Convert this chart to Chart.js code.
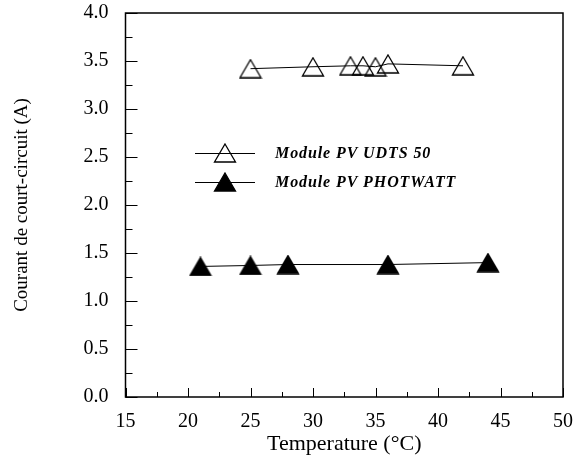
<!DOCTYPE html>
<html>
<head>
<meta charset="utf-8">
<script src="https://cdn.jsdelivr.net/npm/chart.js@4/dist/chart.umd.min.js"></script>
<style>
  html, body { margin: 0; padding: 0; background: #fff; }
  #wrap { width: 584px; height: 459px; }
</style>
</head>
<body>
<div id="wrap"><canvas id="chart"></canvas></div>
<script>
// Data
const tempsUdts = [25, 30, 33, 34, 35, 36, 42];
const currentUdts = [3.42, 3.44, 3.45, 3.45, 3.44, 3.47, 3.45];
const tempsPhotowatt = [21, 25, 28, 36, 44];
const currentPhotowatt = [1.36, 1.37, 1.38, 1.38, 1.40];
const xTicks = [15, 20, 25, 30, 35, 40, 45, 50];
const yTicks = [0, 0.5, 1, 1.5, 2, 2.5, 3, 3.5, 4];
const seriesNames = ["Module PV UDTS 50", "Module PV PHOTWATT"];

const serif = "'Liberation Serif', 'Times New Roman', serif";

// triangle markers, centred on the point
function triangle(filled) {
  const c = document.createElement("canvas");
  c.width = 24;
  c.height = 20;
  const g = c.getContext("2d");
  g.beginPath();
  g.moveTo(12, 1);
  g.lineTo(22.5, 19);
  g.lineTo(1.5, 19);
  g.closePath();
  if (filled) {
    g.fillStyle = "#000";
    g.fill();
  }
  g.strokeStyle = "#000";
  g.lineWidth = 1.3;
  g.stroke();
  return c;
}
const openTri = triangle(false);
const fullTri = triangle(true);

function toPoints(xs, ys) {
  return xs.map((x, i) => ({ x: x, y: ys[i] }));
}

// frame, inward ticks and the legend inside the plot
const framePlugin = {
  id: "frame",
  afterDraw(chart) {
    const ctx = chart.ctx;
    const a = chart.chartArea;
    const xs = chart.scales.x;
    const ys = chart.scales.y;
    ctx.save();
    ctx.strokeStyle = "#000";
    ctx.lineWidth = 1.5;
    ctx.strokeRect(a.left, a.top, a.right - a.left, a.bottom - a.top);

    ctx.lineWidth = 1;
    ctx.beginPath();
    for (let v = 15; v <= 50; v += 2.5) {
      const px = Math.round(xs.getPixelForValue(v)) + 0.5;
      const len = v % 5 === 0 ? 9 : 5;
      ctx.moveTo(px, a.bottom);
      ctx.lineTo(px, a.bottom - len);
    }
    for (let v = 0; v <= 4; v += 0.25) {
      const py = Math.round(ys.getPixelForValue(v)) + 0.5;
      const len = Math.abs(v * 2 - Math.round(v * 2)) < 1e-6 ? 12 : 7;
      ctx.moveTo(a.left, py);
      ctx.lineTo(a.left + len, py);
    }
    ctx.stroke();

    // legend
    const items = [
      { y: 153, img: openTri, name: seriesNames[0] },
      { y: 182, img: fullTri, name: seriesNames[1] }
    ];
    ctx.font = "bold italic 16px " + serif;
    ctx.letterSpacing = "0.9px";
    ctx.textBaseline = "middle";
    ctx.fillStyle = "#000";
    items.forEach((it) => {
      ctx.beginPath();
      ctx.moveTo(195, it.y + 0.5);
      ctx.lineTo(255, it.y + 0.5);
      ctx.lineWidth = 1;
      ctx.stroke();
      ctx.drawImage(it.img, 225 - it.img.width / 2, it.y - it.img.height / 2);
      ctx.fillText(it.name, 275, it.y + 1);
    });
    ctx.restore();
  }
};

new Chart(document.getElementById("chart"), {
  type: "line",
  data: {
    datasets: [
      {
        label: seriesNames[0],
        data: toPoints(tempsUdts, currentUdts),
        borderColor: "#000",
        borderWidth: 1,
        pointStyle: openTri,
        tension: 0
      },
      {
        label: seriesNames[1],
        data: toPoints(tempsPhotowatt, currentPhotowatt),
        borderColor: "#000",
        borderWidth: 1,
        pointStyle: fullTri,
        tension: 0
      }
    ]
  },
  options: {
    responsive: true,
    maintainAspectRatio: false,
    animation: false,
    layout: { autoPadding: false, padding: { left: 0, right: 21, top: 13, bottom: 0 } },
    plugins: {
      legend: { display: false },
      tooltip: { enabled: false }
    },
    scales: {
      x: {
        type: "linear",
        min: 15,
        max: 50,
        grid: { display: false, drawTicks: false },
        border: { display: false },
        afterBuildTicks: (s) => { s.ticks = xTicks.map((v) => ({ value: v })); },
        afterFit: (s) => {
          s.height = 62;
          s.paddingLeft = 0;
          s.paddingRight = 0;
        },
        ticks: {
          color: "#000",
          padding: 13,
          maxRotation: 0,
          font: { family: serif, size: 20 }
        },
        title: {
          display: true,
          text: "Temperature (°C)",
          color: "#000",
          padding: { top: 0, bottom: 1.5 },
          font: { family: serif, size: 22 }
        }
      },
      y: {
        min: 0,
        max: 4,
        grid: { display: false, drawTicks: false },
        border: { display: false },
        afterBuildTicks: (s) => { s.ticks = yTicks.map((v) => ({ value: v })); },
        afterFit: (s) => {
          s.width = 125.5;
          s.paddingTop = 0;
          s.paddingBottom = 0;
        },
        ticks: {
          color: "#000",
          padding: 17,
          callback: (v) => v.toFixed(1),
          font: { family: serif, size: 20 }
        },
        title: {
          display: true,
          text: "Courant de court-circuit (A)",
          color: "#000",
          padding: { top: 10.5, bottom: 0 },
          font: { family: serif, size: 19 }
        }
      }
    }
  },
  plugins: [framePlugin]
});
</script>
</body>
</html>
